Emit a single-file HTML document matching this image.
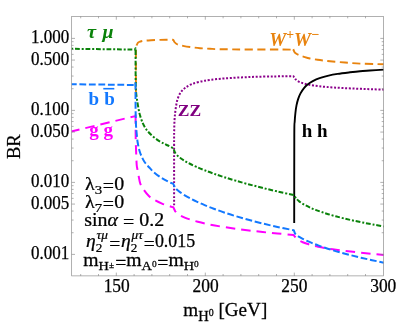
<!DOCTYPE html>
<html><head><meta charset="utf-8"><title>BR plot</title>
<style>html,body{margin:0;padding:0;background:#fff}svg{display:block}</style></head>
<body>
<svg width="399" height="332" viewBox="0 0 399 332">
<rect width="399" height="332" fill="#fff"/>
<defs><clipPath id="c"><rect x="71.70" y="16.40" width="311.90" height="259.50"/></clipPath></defs>
<g clip-path="url(#c)" fill="none" stroke-linejoin="round">
<path d="M135.90 97.00 L135.90 48.00 L136.50 45.50 C136.67 45.17 137.08 44.08 137.50 43.50 C137.92 42.92 138.00 42.45 139.00 42.00 C140.00 41.55 141.50 41.10 143.50 40.80 C145.50 40.50 148.25 40.35 151.00 40.20 C153.75 40.05 157.23 39.97 160.00 39.90 C162.77 39.83 165.50 39.82 167.60 39.80 C169.70 39.78 171.60 39.70 172.60 39.80 C173.60 39.90 173.30 40.03 173.60 40.40 C173.90 40.77 173.90 41.40 174.40 42.00 C174.90 42.60 175.73 43.50 176.60 44.00 C177.47 44.50 178.35 44.65 179.60 45.00 C180.85 45.35 182.37 45.77 184.10 46.10 C185.83 46.43 187.35 46.65 190.00 47.00 C192.65 47.35 196.67 47.90 200.00 48.20 C203.33 48.50 206.67 48.63 210.00 48.80 C213.33 48.97 213.33 49.08 220.00 49.20 C226.67 49.32 238.17 49.43 250.00 49.50 C261.83 49.57 283.75 49.48 291.00 49.60 C298.25 49.72 292.83 49.67 293.50 50.20 C294.17 50.73 294.12 52.00 295.00 52.80 C295.88 53.60 297.30 54.33 298.80 55.00 C300.30 55.67 302.13 56.22 304.00 56.80 C305.87 57.38 307.73 58.00 310.00 58.50 C312.27 59.00 315.33 59.45 317.60 59.80 C319.87 60.15 321.53 60.35 323.60 60.60 C325.67 60.85 326.43 60.98 330.00 61.30 C333.57 61.62 340.00 62.12 345.00 62.50 C350.00 62.88 355.00 63.35 360.00 63.60 C365.00 63.85 371.00 63.88 375.00 64.00 C379.00 64.12 382.50 64.25 384.00 64.30" stroke="#e8830e" stroke-width="1.9" stroke-dasharray="8.1 4.45" stroke-dashoffset="11.27"/>
<path d="M174.10 205.30 C174.10 194.42 174.08 152.55 174.10 140.00 C174.12 127.45 174.13 133.25 174.20 130.00 C174.27 126.75 174.35 123.28 174.50 120.50 C174.65 117.72 174.83 115.72 175.10 113.30 C175.37 110.88 175.68 108.38 176.10 106.00 C176.52 103.62 176.82 101.28 177.60 99.00 C178.38 96.72 179.52 94.17 180.80 92.30 C182.08 90.43 183.55 89.13 185.30 87.80 C187.05 86.47 188.92 85.30 191.30 84.30 C193.68 83.30 196.48 82.53 199.60 81.80 C202.72 81.07 205.77 80.47 210.00 79.90 C214.23 79.33 218.33 78.88 225.00 78.40 C231.67 77.92 241.67 77.33 250.00 77.00 C258.33 76.67 267.78 76.53 275.00 76.40 C282.22 76.27 290.25 76.23 293.30 76.20 L295.50 79.27 C295.83 79.54 296.67 80.38 297.46 80.89 C298.25 81.40 299.17 81.87 300.23 82.31 C301.29 82.75 302.48 83.15 303.81 83.53 C305.13 83.91 306.59 84.26 308.19 84.59 C309.79 84.91 311.52 85.21 313.38 85.49 C315.25 85.77 317.25 86.02 319.38 86.26 C321.52 86.50 323.79 86.72 326.19 86.93 C328.59 87.13 331.13 87.32 333.80 87.50 C336.48 87.67 339.29 87.84 342.23 88.00 C345.17 88.15 348.25 88.30 351.46 88.44 C354.67 88.59 358.02 88.72 361.50 88.86 C364.98 88.99 368.60 89.12 372.35 89.26 C376.10 89.39 382.06 89.60 384.00 89.67" stroke="#8b008b" stroke-width="2.0" stroke-dasharray="2.0 1.7" stroke-dashoffset="0"/>
<path d="M294.20 223.00 C294.22 208.33 294.22 151.92 294.30 135.00 C294.38 118.08 294.52 125.17 294.70 121.50 C294.88 117.83 295.10 115.68 295.40 113.00 C295.70 110.32 296.03 107.75 296.50 105.40 C296.97 103.05 297.53 100.90 298.20 98.90 C298.87 96.90 299.57 95.17 300.50 93.40 C301.43 91.63 302.62 89.78 303.80 88.30 C304.98 86.82 306.10 85.68 307.60 84.50 C309.10 83.32 310.80 82.25 312.80 81.20 C314.80 80.15 316.97 79.13 319.60 78.20 C322.23 77.27 325.60 76.32 328.60 75.60 C331.60 74.88 334.03 74.45 337.60 73.90 C341.17 73.35 346.27 72.75 350.00 72.30 C353.73 71.85 356.67 71.50 360.00 71.20 C363.33 70.90 366.00 70.77 370.00 70.50 C374.00 70.23 381.67 69.75 384.00 69.60" stroke="#000" stroke-width="1.9" />
<path d="M71.20 48.80 L135.40 49.60" stroke="#0a820a" stroke-width="2.0" stroke-dasharray="2.0 1.8 4.8 1.9" stroke-dashoffset="0"/>
<path d="M135.40 49.60 C135.43 49.63 135.57 46.40 135.60 49.80 C135.63 53.20 135.57 63.97 135.60 70.00 C135.63 76.03 135.70 82.07 135.80 86.00 C135.90 89.93 136.00 91.33 136.20 93.60 C136.40 95.87 136.67 97.38 137.00 99.60 C137.33 101.82 137.70 104.28 138.20 106.90 C138.70 109.52 139.20 112.50 140.00 115.30 C140.80 118.10 141.88 121.25 143.00 123.70 C144.12 126.15 145.18 128.02 146.70 130.00 C148.22 131.98 150.13 133.83 152.10 135.60 C154.07 137.37 156.50 139.25 158.50 140.60 C160.50 141.95 162.52 142.88 164.10 143.70 C165.68 144.52 166.47 144.75 168.00 145.50 C169.53 146.25 172.42 147.75 173.30 148.20 L174.80 152.22 C175.13 152.66 175.92 153.97 176.78 154.88 C177.64 155.80 178.69 156.74 179.95 157.70 C181.21 158.67 182.66 159.66 184.32 160.67 C185.97 161.67 187.82 162.71 189.87 163.76 C191.93 164.81 194.18 165.88 196.63 166.96 C199.08 168.04 201.72 169.15 204.57 170.26 C207.42 171.38 210.46 172.51 213.71 173.65 C216.95 174.80 220.40 175.95 224.04 177.12 C227.68 178.28 231.53 179.46 235.57 180.64 C239.61 181.82 243.85 183.01 248.28 184.20 C252.72 185.40 257.36 186.60 262.20 187.80 C267.03 189.00 272.07 190.21 277.30 191.41 C282.54 192.62 290.88 194.43 293.60 195.03 L296.60 198.98 C296.99 199.34 298.02 200.41 298.92 201.13 C299.82 201.85 300.83 202.57 301.97 203.30 C303.11 204.02 304.38 204.75 305.76 205.48 C307.15 206.20 308.65 206.93 310.28 207.66 C311.91 208.39 313.67 209.12 315.54 209.84 C317.41 210.57 319.41 211.29 321.53 212.01 C323.65 212.74 325.89 213.46 328.25 214.17 C330.62 214.89 333.10 215.60 335.71 216.31 C338.32 217.01 341.05 217.71 343.90 218.41 C346.75 219.11 349.73 219.80 352.82 220.48 C355.92 221.16 359.14 221.84 362.48 222.51 C365.82 223.17 369.29 223.83 372.87 224.48 C376.46 225.13 382.15 226.09 384.00 226.41" stroke="#0a820a" stroke-width="2.0" stroke-dasharray="2.0 1.8 4.8 1.9" stroke-dashoffset="0.64"/>
<path d="M71.20 131.50 L135.30 116.10" stroke="#ff00ff" stroke-width="2.0" stroke-dasharray="9.5 6.0" stroke-dashoffset="1.0"/>
<path d="M135.30 116.10 C135.35 116.13 135.55 113.98 135.60 116.30 C135.65 118.62 135.57 125.72 135.60 130.00 C135.63 134.28 135.70 138.00 135.80 142.00 C135.90 146.00 136.05 150.17 136.20 154.00 C136.35 157.83 136.50 162.47 136.70 165.00 C136.90 167.53 137.08 167.40 137.40 169.20 C137.72 171.00 138.12 173.38 138.60 175.80 C139.08 178.22 139.45 181.38 140.30 183.70 C141.15 186.02 142.23 187.60 143.70 189.70 C145.17 191.80 147.30 194.58 149.10 196.30 C150.90 198.02 152.35 198.78 154.50 200.00 C156.65 201.22 159.50 202.57 162.00 203.60 C164.50 204.63 167.62 205.58 169.50 206.20 C171.38 206.82 172.67 207.12 173.30 207.30 L175.20 211.23 C175.57 211.61 176.50 212.76 177.43 213.51 C178.36 214.25 179.49 214.98 180.81 215.70 C182.12 216.41 183.63 217.12 185.33 217.81 C187.02 218.50 188.91 219.17 190.99 219.84 C193.07 220.50 195.34 221.15 197.80 221.79 C200.26 222.43 202.91 223.06 205.76 223.67 C208.60 224.29 211.63 224.89 214.86 225.48 C218.08 226.07 221.49 226.65 225.10 227.22 C228.71 227.78 232.50 228.34 236.49 228.88 C240.48 229.43 244.66 229.96 249.03 230.49 C253.39 231.01 257.95 231.52 262.71 232.03 C267.46 232.53 272.40 233.02 277.53 233.50 C282.66 233.98 290.84 234.68 293.50 234.92 L295.00 236.76 C295.29 237.09 296.01 238.09 296.73 238.72 C297.45 239.35 298.31 239.95 299.32 240.54 C300.32 241.12 301.47 241.69 302.75 242.24 C304.04 242.78 305.47 243.31 307.04 243.82 C308.61 244.33 310.33 244.83 312.18 245.31 C314.04 245.79 316.04 246.25 318.18 246.70 C320.32 247.15 322.60 247.59 325.02 248.02 C327.45 248.45 330.01 248.86 332.72 249.27 C335.43 249.68 338.28 250.07 341.27 250.46 C344.26 250.85 347.40 251.23 350.68 251.61 C353.95 251.99 357.37 252.36 360.93 252.73 C364.49 253.10 368.19 253.46 372.04 253.82 C375.88 254.18 382.01 254.72 384.00 254.90" stroke="#ff00ff" stroke-width="2.0" stroke-dasharray="9.5 6.0" stroke-dashoffset="0.33"/>
<path d="M71.20 84.20 L135.30 85.00" stroke="#1278ff" stroke-width="2.0" stroke-dasharray="6.8 2.7" stroke-dashoffset="1.3"/>
<path d="M135.30 85.00 C135.33 85.03 135.45 81.03 135.50 85.20 C135.55 89.37 135.52 103.37 135.60 110.00 C135.68 116.63 135.82 121.07 136.00 125.00 C136.18 128.93 136.43 130.77 136.70 133.60 C136.97 136.43 137.15 139.18 137.60 142.00 C138.05 144.82 138.68 147.98 139.40 150.50 C140.12 153.02 140.98 155.10 141.90 157.10 C142.82 159.10 143.70 160.80 144.90 162.50 C146.10 164.20 147.70 165.77 149.10 167.30 C150.50 168.83 151.40 170.03 153.30 171.70 C155.20 173.37 158.05 175.67 160.50 177.30 C162.95 178.93 165.87 180.42 168.00 181.50 C170.13 182.58 172.42 183.42 173.30 183.80 L174.80 187.35 C175.13 187.72 175.92 188.78 176.78 189.59 C177.64 190.39 178.70 191.26 179.96 192.18 C181.22 193.09 182.67 194.06 184.33 195.07 C185.99 196.08 187.84 197.13 189.90 198.22 C191.95 199.30 194.21 200.43 196.66 201.58 C199.11 202.72 201.77 203.90 204.62 205.09 C207.47 206.29 210.52 207.51 213.77 208.73 C217.02 209.95 220.47 211.19 224.12 212.43 C227.77 213.66 231.62 214.91 235.67 216.14 C239.71 217.38 243.96 218.62 248.41 219.83 C252.85 221.05 257.50 222.26 262.34 223.45 C267.19 224.63 272.23 225.81 277.47 226.94 C282.72 228.08 291.08 229.71 293.80 230.26 L295.00 233.61 C295.29 233.88 296.01 234.64 296.73 235.20 C297.45 235.76 298.31 236.36 299.32 236.97 C300.32 237.58 301.47 238.23 302.75 238.89 C304.04 239.56 305.47 240.25 307.04 240.95 C308.61 241.66 310.33 242.39 312.18 243.13 C314.04 243.87 316.04 244.64 318.18 245.41 C320.32 246.18 322.60 246.97 325.02 247.77 C327.45 248.57 330.01 249.38 332.72 250.20 C335.43 251.02 338.28 251.84 341.27 252.67 C344.26 253.50 347.40 254.34 350.68 255.17 C353.95 256.01 357.37 256.85 360.93 257.68 C364.49 258.52 368.19 259.35 372.04 260.18 C375.88 261.01 382.01 262.24 384.00 262.65" stroke="#1278ff" stroke-width="2.0" stroke-dasharray="6.8 2.7" stroke-dashoffset="8.64"/>
</g>
<g stroke="#808080" stroke-width="0.62" fill="none">
<rect x="71.70" y="16.40" width="311.90" height="259.50"/>
<path d="M80.70 275.90v-1.90M80.70 16.40v1.90M98.50 275.90v-1.90M98.50 16.40v1.90M116.30 275.90v-3.30M116.30 16.40v3.30M134.10 275.90v-1.90M134.10 16.40v1.90M151.90 275.90v-1.90M151.90 16.40v1.90M169.70 275.90v-1.90M169.70 16.40v1.90M187.50 275.90v-1.90M187.50 16.40v1.90M205.30 275.90v-3.30M205.30 16.40v3.30M223.10 275.90v-1.90M223.10 16.40v1.90M240.90 275.90v-1.90M240.90 16.40v1.90M258.70 275.90v-1.90M258.70 16.40v1.90M276.50 275.90v-1.90M276.50 16.40v1.90M294.30 275.90v-3.30M294.30 16.40v3.30M312.10 275.90v-1.90M312.10 16.40v1.90M329.90 275.90v-1.90M329.90 16.40v1.90M347.70 275.90v-1.90M347.70 16.40v1.90M365.50 275.90v-1.90M365.50 16.40v1.90M71.70 38.40h3.30M383.60 38.40h-3.30M71.70 110.40h3.30M383.60 110.40h-3.30M71.70 88.73h1.90M383.60 88.73h-1.90M71.70 76.05h1.90M383.60 76.05h-1.90M71.70 67.05h1.90M383.60 67.05h-1.90M71.70 60.07h3.30M383.60 60.07h-3.30M71.70 54.37h1.90M383.60 54.37h-1.90M71.70 49.55h1.90M383.60 49.55h-1.90M71.70 45.38h1.90M383.60 45.38h-1.90M71.70 41.69h1.90M383.60 41.69h-1.90M71.70 182.40h3.30M383.60 182.40h-3.30M71.70 160.73h1.90M383.60 160.73h-1.90M71.70 148.05h1.90M383.60 148.05h-1.90M71.70 139.05h1.90M383.60 139.05h-1.90M71.70 132.07h3.30M383.60 132.07h-3.30M71.70 126.37h1.90M383.60 126.37h-1.90M71.70 121.55h1.90M383.60 121.55h-1.90M71.70 117.38h1.90M383.60 117.38h-1.90M71.70 113.69h1.90M383.60 113.69h-1.90M71.70 254.40h3.30M383.60 254.40h-3.30M71.70 232.73h1.90M383.60 232.73h-1.90M71.70 220.05h1.90M383.60 220.05h-1.90M71.70 211.05h1.90M383.60 211.05h-1.90M71.70 204.07h3.30M383.60 204.07h-3.30M71.70 198.37h1.90M383.60 198.37h-1.90M71.70 193.55h1.90M383.60 193.55h-1.90M71.70 189.38h1.90M383.60 189.38h-1.90M71.70 185.69h1.90M383.60 185.69h-1.90"/>
</g>
<g font-family="Liberation Serif, serif" font-size="17.8" fill="#000" stroke="#000" stroke-width="0.25">
<text x="31.0" y="42.90" textLength="38.2" lengthAdjust="spacingAndGlyphs">1.000</text>
<text x="31.0" y="64.57" textLength="38.2" lengthAdjust="spacingAndGlyphs">0.500</text>
<text x="31.0" y="114.90" textLength="38.2" lengthAdjust="spacingAndGlyphs">0.100</text>
<text x="31.0" y="136.57" textLength="38.2" lengthAdjust="spacingAndGlyphs">0.050</text>
<text x="31.0" y="186.90" textLength="38.2" lengthAdjust="spacingAndGlyphs">0.010</text>
<text x="31.0" y="208.57" textLength="38.2" lengthAdjust="spacingAndGlyphs">0.005</text>
<text x="31.0" y="258.90" textLength="38.2" lengthAdjust="spacingAndGlyphs">0.001</text>
<text x="103.65" y="292.2" textLength="26.1" lengthAdjust="spacingAndGlyphs">150</text>
<text x="192.55" y="292.2" textLength="26.1" lengthAdjust="spacingAndGlyphs">200</text>
<text x="281.35" y="292.2" textLength="26.1" lengthAdjust="spacingAndGlyphs">250</text>
<text x="370.20" y="292.2" textLength="26.1" lengthAdjust="spacingAndGlyphs">300</text>
</g>
<text transform="translate(87.0,37.6) scale(1.13,1)" font-family="Liberation Serif, serif" font-weight="bold" font-style="italic" font-size="18" fill="#0a820a">τ</text>
<text transform="translate(102.6,37.6) scale(1.1,1)" font-family="Liberation Serif, serif" font-weight="bold" font-style="italic" font-size="18" fill="#0a820a">μ</text>
<text x="88.4" y="104.5" font-family="Liberation Serif, serif" font-weight="bold" font-size="19" fill="#1278ff">b</text>
<text x="104.3" y="104.5" font-family="Liberation Serif, serif" font-weight="bold" font-size="19" fill="#1278ff">b</text>
<path d="M103.3 88.7H114.3" stroke="#1278ff" stroke-width="1.6"/>
<text x="89.3" y="135.8" font-family="Liberation Serif, serif" font-weight="bold" font-size="19" fill="#ff00ff">g</text>
<text x="103.5" y="135.8" font-family="Liberation Serif, serif" font-weight="bold" font-size="19" fill="#ff00ff">g</text>
<text x="177.8" y="115.7" font-family="Liberation Serif, serif" font-weight="bold" font-size="17.5" fill="#800080">ZZ</text>
<text x="301.8" y="136.7" font-family="Liberation Serif, serif" font-weight="bold" font-size="19" fill="#000">h</text>
<text x="316.9" y="136.7" font-family="Liberation Serif, serif" font-weight="bold" font-size="19" fill="#000">h</text>
<text x="269.2" y="45.6" font-family="Liberation Serif, serif" font-weight="bold" font-style="italic" font-size="19" fill="#e8830e">W<tspan dy="-6.5" font-size="14">+</tspan><tspan dy="6.5">W</tspan><tspan dy="-6.5" font-size="14">−</tspan></text>
<g fill="#000" font-size="17.8" stroke="#000" stroke-width="0.25" font-family="Liberation Serif, serif">
<text transform="translate(85.0,190.3) scale(1.12,1)"><tspan>λ</tspan><tspan dy="3.5" font-size="13.3">3</tspan><tspan dy="-1.9" dx="0.5">=</tspan><tspan dy="-1.6" dx="0.2">0</tspan></text>
<text transform="translate(85.0,208.3) scale(1.12,1)"><tspan>λ</tspan><tspan dy="3.5" font-size="13.3">7</tspan><tspan dy="-1.9" dx="0.5">=</tspan><tspan dy="-1.6" dx="0.2">0</tspan></text>
<text transform="translate(84.3,226.4) scale(1.12,1)">sin<tspan font-style="italic">α</tspan> <tspan dy="1.1">=</tspan><tspan dy="-1.1"> 0.2</tspan></text>
<text transform="translate(86.0,247.2) scale(1.1,1)"><tspan font-style="italic">η</tspan><tspan dy="5" font-size="12">2</tspan><tspan dy="-13.6" dx="-5.2" font-size="12" font-style="italic">τμ</tspan><tspan dy="11.2" dx="1.2">=</tspan><tspan dy="-2.6" dx="0.6" font-style="italic">η</tspan><tspan dy="5" font-size="12">2</tspan><tspan dy="-13.6" dx="-5.2" font-size="12" font-style="italic">μτ</tspan><tspan dy="11.2" dx="0.8">=</tspan></text>
<text x="154.9" y="246.5" textLength="40.3" lengthAdjust="spacingAndGlyphs">0.015</text>
<text transform="translate(83.3,266.3) scale(1.105,1)">m<tspan dy="3.3" font-size="13">H</tspan><tspan dy="-1.4" font-size="8.5">±</tspan><tspan dy="0.3" dx="1">=</tspan><tspan dy="-2.2">m</tspan><tspan dy="3.3" font-size="13">A</tspan><tspan dy="-3" font-size="8.5">0</tspan><tspan dy="1.9" dx="0.6">=</tspan><tspan dy="-2.2">m</tspan><tspan dy="3.3" font-size="13">H</tspan><tspan dy="-3" font-size="8.5">0</tspan></text>
</g>
<g fill="#000" stroke="#000" stroke-width="0.25">
<text transform="translate(183.3,316.3) scale(1.04,1)" font-family="Liberation Serif, serif" font-size="18.4">m<tspan dy="4.8" font-size="14">H</tspan><tspan dy="-5" font-size="9.5">0</tspan><tspan dy="0.2"> [GeV]</tspan></text>
<text transform="translate(19.7,159.1) rotate(-90)" font-family="Liberation Serif, serif" font-size="18.6">BR</text>
</g>
</svg>
</body></html>
